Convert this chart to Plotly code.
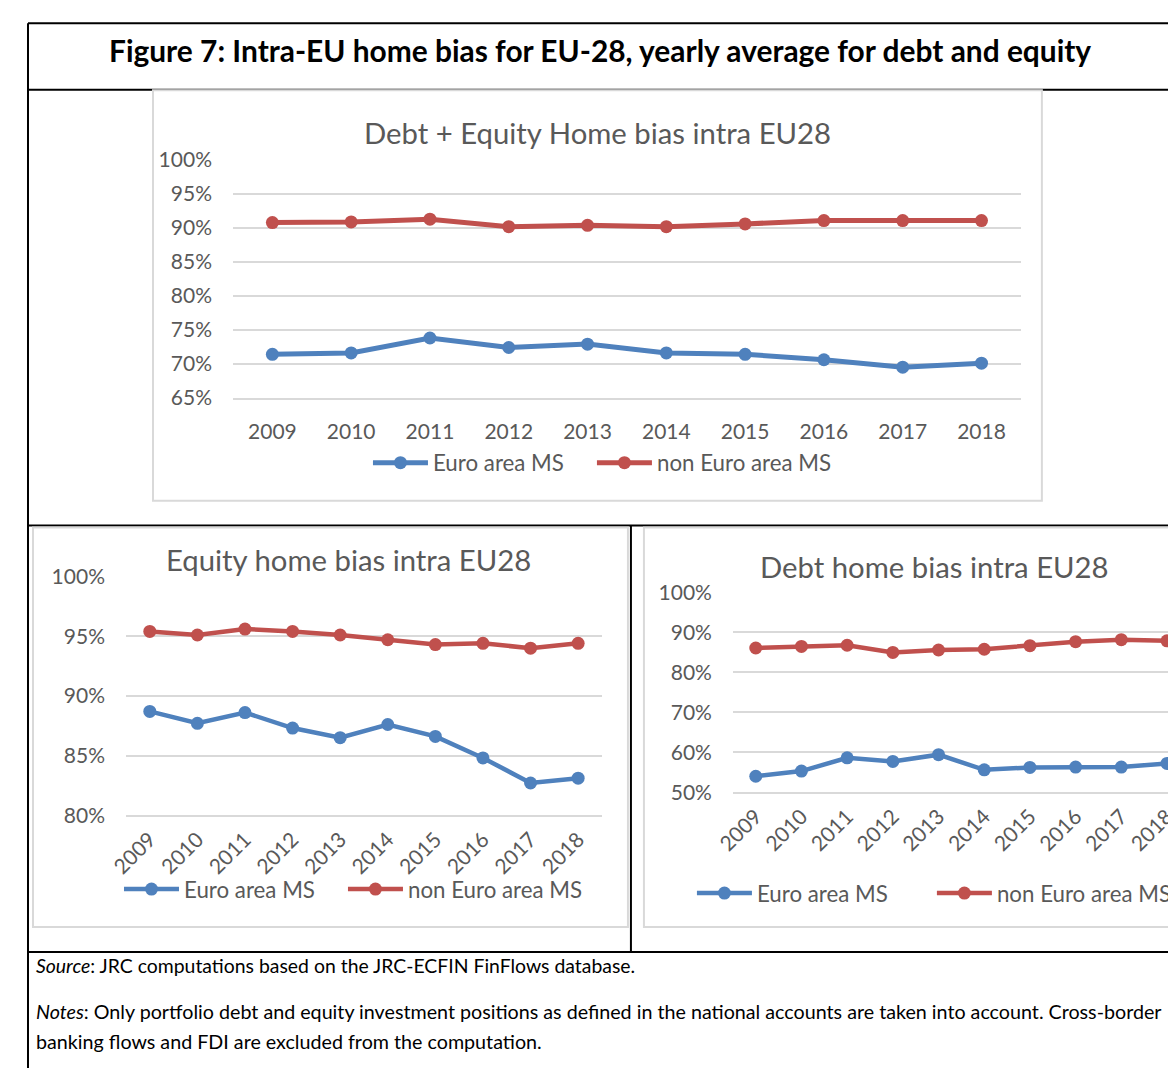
import plotly.graph_objects as go

# ---------------- data ----------------
years = ["2009", "2010", "2011", "2012", "2013", "2014", "2015", "2016", "2017", "2018"]

total_euro = [0.714, 0.716, 0.738, 0.724, 0.729, 0.716, 0.714, 0.706, 0.695, 0.701]
total_non_euro = [0.908, 0.909, 0.913, 0.902, 0.904, 0.902, 0.906, 0.911, 0.911, 0.911]

equity_euro = [0.887, 0.877, 0.886, 0.873, 0.865, 0.876, 0.866, 0.848, 0.827, 0.831]
equity_non_euro = [0.954, 0.951, 0.956, 0.954, 0.951, 0.947, 0.943, 0.944, 0.940, 0.944]

debt_euro = [0.540, 0.553, 0.586, 0.577, 0.594, 0.556, 0.562, 0.563, 0.563, 0.572]
debt_non_euro = [0.861, 0.865, 0.868, 0.850, 0.856, 0.858, 0.867, 0.877, 0.882, 0.879]

series_names = ["Euro area MS", "non Euro area MS"]

fig_title = "Figure 7: Intra-EU home bias for EU-28, yearly average for debt and equity"
chart_titles = ["Debt + Equity Home bias intra EU28", "Equity home bias intra EU28", "Debt home bias intra EU28"]
source_text = "<i>Source</i>: JRC computations based on the JRC-ECFIN FinFlows database."
notes_line1 = ("<i>Notes</i>: Only portfolio debt and equity investment positions as defined in the national "
               "accounts are taken into account. Cross-border")
notes_line2 = "banking flows and FDI are excluded from the computation."

# ---------------- layout helpers ----------------
# screen position = S * figure pixel + C  (measured from the captured page)
CX, SX = 27.0, 0.983
CY, SY = 21.7, 0.978
W, H = 1169, 1070
BLUE = "#4F81BD"
RED = "#C0504D"
GRID = "#D9D9D9"
TXT = "#595959"
FONT = "Lato"


def px_x(x):
    return max((x - CX) / SX, 0.0) / W


def px_y(y):
    return 1 - max((y - CY) / SY, 0.0) / H


fig = go.Figure()

charts = [
    dict(xa="x", ya="y", euro=total_euro, non=total_non_euro, legends=("legend", "legend2"), lw=5, ms=13),
    dict(xa="x2", ya="y2", euro=equity_euro, non=equity_non_euro, legends=("legend3", "legend4"), lw=4.5, ms=13),
    dict(xa="x3", ya="y3", euro=debt_euro, non=debt_non_euro, legends=("legend5", "legend6"), lw=4.5, ms=13),
]

for c in charts:
    for name, vals, col, lg in [(series_names[0], c["euro"], BLUE, c["legends"][0]),
                                (series_names[1], c["non"], RED, c["legends"][1])]:
        fig.add_trace(go.Scatter(
            x=years, y=vals, name=name, mode="lines+markers",
            line=dict(color=col, width=c["lw"]),
            marker=dict(color=col, size=c["ms"]),
            xaxis=c["xa"], yaxis=c["ya"], legend=lg,
            cliponaxis=True, hoverinfo="skip",
        ))

axis_common_y = dict(
    showgrid=True, gridcolor=GRID, gridwidth=1.5, zeroline=False,
    tickformat=".0%", tickfont=dict(family=FONT, size=21, color=TXT),
    ticks="", showline=False, ticklabelstandoff=20, fixedrange=True,
)
axis_common_x = dict(
    type="category", showgrid=False, zeroline=False, showline=True, linecolor=GRID, linewidth=1.5,
    tickfont=dict(family=FONT, size=21, color=TXT), ticks="", fixedrange=True,
)

legend_common = dict(orientation="h", xanchor="left", yanchor="middle", itemwidth=55,
                     font=dict(family=FONT, size=22.3, color=TXT), bgcolor="rgba(0,0,0,0)",
                     itemclick=False, itemdoubleclick=False)

# legend symbol starts (screen px) and vertical centres
legend_pos = {
    "legend": (373, 463), "legend2": (597, 463),
    "legend3": (124, 890), "legend4": (348, 890),
    "legend5": (697, 894), "legend6": (937, 894),
}
legend_layout = {k: dict(**legend_common, x=px_x(v[0] - 5), y=px_y(v[1])) for k, v in legend_pos.items()}

# debt chart: category centres at screen 756 .. 1167, clipped at the right edge (1176)
debt_step = (1167 - 756) / 9

fig.update_layout(
    width=W, height=H,
    margin=dict(l=0, r=0, t=0, b=0),
    paper_bgcolor="white", plot_bgcolor="white",
    font=dict(family=FONT, color=TXT),
    xaxis=dict(**axis_common_x, domain=[px_x(233), px_x(1021)], range=[-0.5, 9.5], anchor="y",
               ticklabelstandoff=14),
    yaxis=dict(**axis_common_y, domain=[px_y(398), px_y(160)], range=[0.65, 1.0], dtick=0.05, anchor="x"),
    xaxis2=dict(**axis_common_x, domain=[px_x(126), px_x(602)], range=[-0.5, 9.5], anchor="y2",
                tickangle=-45, ticklabelstandoff=2),
    yaxis2=dict(**axis_common_y, domain=[px_y(816), px_y(577)], range=[0.8, 1.0], dtick=0.05, anchor="x2"),
    xaxis3=dict(**axis_common_x, domain=[px_x(733), 1.0], range=[-0.5, 9 + (1176 - 1167) / debt_step],
                anchor="y3", tickangle=-45, ticklabelstandoff=2),
    yaxis3=dict(**axis_common_y, domain=[px_y(793), px_y(593)], range=[0.5, 1.0], dtick=0.1, anchor="x3"),
    showlegend=True,
    **legend_layout,
)

# ---------------- frames ----------------
shapes = []
BLACK = "black"


def hline(y, x0, x1, color=BLACK, w=2):
    shapes.append(dict(type="line", xref="paper", yref="paper", x0=px_x(x0), x1=px_x(x1),
                       y0=px_y(y), y1=px_y(y), line=dict(color=color, width=w), layer="below"))


def vline(x, y0, y1, color=BLACK, w=2):
    shapes.append(dict(type="line", xref="paper", yref="paper", x0=px_x(x), x1=px_x(x),
                       y0=px_y(y0), y1=px_y(y1), line=dict(color=color, width=w), layer="below"))


def box(x0, y0, x1, y1, color=GRID, w=2):
    shapes.append(dict(type="rect", xref="paper", yref="paper", x0=px_x(x0), x1=px_x(x1),
                       y0=px_y(y1), y1=px_y(y0), line=dict(color=color, width=w),
                       fillcolor="rgba(0,0,0,0)", layer="below"))


# outer table lines (page edge limits the top/left lines)
hline(23, 28, 1180)
vline(28, 23, 1070)
hline(89.5, 28, 1180)
hline(526, 28, 1180)
hline(953, 28, 1180)
vline(631, 526, 953)

# chart boxes
box(153, 90, 1042, 501)
box(33, 528, 628, 928)
box(644, 528, 1200, 928)

fig.update_layout(shapes=shapes)

# ---------------- texts ----------------
ann = []
ann.append(dict(text="<b>" + fig_title + "</b>", x=px_x(600), y=px_y(50), xref="paper", yref="paper",
                xanchor="center", yanchor="middle", showarrow=False,
                font=dict(family=FONT, size=29.9, color="black")))
for t, cx, cy in zip(chart_titles, [598, 349, 935], [132, 560, 567]):
    ann.append(dict(text=t, x=px_x(cx), y=px_y(cy), xref="paper", yref="paper",
                    xanchor="center", yanchor="middle", showarrow=False,
                    font=dict(family=FONT, size=29.3, color=TXT)))
for t, cy, fs in [(source_text, 967, 19.4), (notes_line1, 1013, 19.7), (notes_line2, 1043, 19.7)]:
    ann.append(dict(text=t, x=px_x(34), y=px_y(cy), xref="paper", yref="paper",
                    xanchor="left", yanchor="middle", showarrow=False,
                    font=dict(family=FONT, size=fs, color="black")))
fig.update_layout(annotations=ann)

fig.write_html("out.html")
